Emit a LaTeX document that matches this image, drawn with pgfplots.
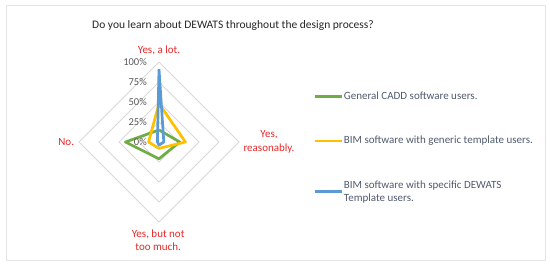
\documentclass[border=0pt]{standalone}
\usepackage{pgfplots}
\pgfplotsset{compat=1.18}
\usepackage{fontspec}
\setmainfont{Carlito}
\definecolor{cgreen}{RGB}{112,173,71}
\definecolor{cgold}{RGB}{255,192,0}
\definecolor{cblue}{RGB}{91,155,213}
\definecolor{catred}{RGB}{228,40,40}
\definecolor{gridgray}{RGB}{217,217,217}
\definecolor{txtgray}{RGB}{89,89,89}
\definecolor{legtxt}{RGB}{80,90,110}
\tikzset{ticklab/.style={anchor=east, inner sep=0pt, text=txtgray, font=\fontsize{10.5}{12}\selectfont}}
\begin{document}
\begin{tikzpicture}[x=1pt,y=1pt]
\path[use as bounding box] (0,0) rectangle (550,266);
\draw[gray!20, line width=1pt] (6,6) rectangle (545,261);
\node[font=\fontsize{11.5}{13}\selectfont, text=black!85] at (233,241) {Do you learn about DEWATS throughout the design process?};
\begin{axis}[
  at={(159pt,124pt)}, anchor=center,
  x=0.8pt, y=0.8pt,
  xmin=-100, xmax=100, ymin=-100, ymax=100,
  hide axis,
  clip=false,
  legend style={at={(1.4625,0.81875)}, anchor=north west, draw=none, fill=none,
     font=\fontsize{11}{13.2}\selectfont, text=legtxt,
     cells={anchor=west, align=left}, row sep=33pt, inner sep=0pt,
     nodes={inner sep=1pt}},
  legend image code/.code={\draw[#1, line width=2.7pt] (0pt,0pt) -- (27pt,0pt);},
]
% grid diamonds
\addplot[gridgray, line width=0.8pt, forget plot] coordinates {(0,25)(25,0)(0,-25)(-25,0)(0,25)};
\addplot[gridgray, line width=0.8pt, forget plot] coordinates {(0,50)(50,0)(0,-50)(-50,0)(0,50)};
\addplot[gridgray, line width=0.8pt, forget plot] coordinates {(0,75)(75,0)(0,-75)(-75,0)(0,75)};
\addplot[gridgray, line width=0.8pt, forget plot] coordinates {(0,100)(100,0)(0,-100)(-100,0)(0,100)};
% series: top = Yes, a lot; right = Yes, reasonably; bottom = Yes, but not too much; left = No
\addplot[cgreen, line width=2.7pt, line join=round] coordinates {(0,15)(26,0)(0,-21)(-42,0)(0,15)};
\addlegendentry{General CADD software users.}
\addplot[cgold, line width=2.7pt, line join=round] coordinates {(0,48)(33,0)(0,-8)(-13,0)(0,48)};
\addlegendentry{BIM software with generic template users.}
\addplot[cblue, line width=2.7pt, line join=round] coordinates {(0,91)(6,0)(0,-4)(-2,0)(0,91)};
\addlegendentry{BIM software with specific DEWATS\\Template users.}
% radial tick labels
\node[ticklab] at (axis cs:-15,0) {0\%};
\node[ticklab] at (axis cs:-15,25) {25\%};
\node[ticklab] at (axis cs:-15,50) {50\%};
\node[ticklab] at (axis cs:-15,75) {75\%};
\node[ticklab] at (axis cs:-15,100) {100\%};
% category labels
\node[text=catred, font=\fontsize{11}{13}\selectfont] at (axis cs:0,115) {Yes, a lot.};
\node[text=catred, font=\fontsize{11}{13.5}\selectfont, align=center] at (axis cs:137.5,0) {Yes,\\reasonably.};
\node[text=catred, font=\fontsize{11}{13.5}\selectfont, align=center] at (axis cs:-1,-122.5) {Yes, but not\\too much.};
\node[text=catred, font=\fontsize{11}{13}\selectfont] at (axis cs:-116,0) {No.};
\end{axis}
\end{tikzpicture}
\end{document}
